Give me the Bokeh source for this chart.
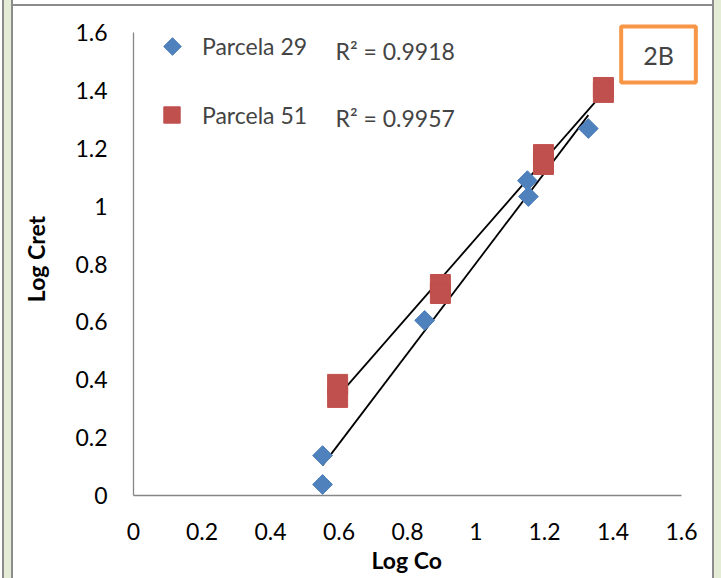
import numpy as np
from bokeh.plotting import figure
from bokeh.models import Legend, LegendItem, Label, Range1d, FixedTicker, Spacer, Title
from bokeh.layouts import row, column
from bokeh.embed import file_html
from bokeh.resources import INLINE

# ---- data ----
p29_x = [0.552, 0.552, 0.850, 1.150, 1.153, 1.328]
p29_y = [0.138, 0.038, 0.605, 1.088, 1.033, 1.268]
p51_x = [0.596, 0.596, 0.896, 0.896, 1.197, 1.197, 1.372, 1.372]
p51_y = [0.384, 0.339, 0.729, 0.698, 1.178, 1.144, 1.410, 1.393]
series_names = ["Parcela 29", "Parcela 51"]
r2_texts = ["R\u00b2 = 0.9918", "R\u00b2 = 0.9957"]
tick_values = [0, 0.2, 0.4, 0.6, 0.8, 1, 1.2, 1.4, 1.6]
tick_labels = ["0", "0.2", "0.4", "0.6", "0.8", "1", "1.2", "1.4", "1.6"]
axis_min, axis_max = 0, 1.6
x_title = "Log Co"
y_title = "Log Cret"
tag_text = "2B"

BLUE = "#4f81bd"
RED = "#c0504d"
FONT = "Lato"
FS = "23px"

# frame is a bit larger than the axes so the "2B" box is not clipped
FRAME_W, FRAME_H = 570, 473      # pixels
AXIS_W, AXIS_H = 548, 463        # pixels spanned by 0..1.6
x_end = axis_max * FRAME_W / AXIS_W
y_end = axis_max * FRAME_H / AXIS_H

p = figure(width=699, height=572, output_backend="svg", toolbar_location=None,
           x_range=Range1d(axis_min, x_end), y_range=Range1d(axis_min, y_end),
           min_border_left=120, min_border_right=9, min_border_top=16, min_border_bottom=83)
p.outline_line_color = None
p.grid.visible = False
p.background_fill_color = "white"
p.border_fill_color = "white"
p.extra_x_ranges = {"px": Range1d(0, FRAME_W)}
p.extra_y_ranges = {"px": Range1d(0, FRAME_H)}

for ax in (p.xaxis[0], p.yaxis[0]):
    ax.ticker = FixedTicker(ticks=tick_values)
    ax.bounds = (axis_min, axis_max)
    ax.major_label_overrides = {v: l for v, l in zip(tick_values, tick_labels)}
    ax.axis_line_color = "#868686"
    ax.axis_line_width = 1.3
    ax.major_tick_line_color = None
    ax.minor_tick_line_color = None
    ax.major_label_text_font = FONT
    ax.major_label_text_font_size = FS
    ax.major_label_text_color = "black"
    ax.axis_label_text_font = FONT
    ax.axis_label_text_font_size = FS
    ax.axis_label_text_font_style = "bold"
    ax.axis_label_text_color = "black"

p.yaxis.axis_label = y_title
p.xaxis.major_label_standoff = 21
p.yaxis.major_label_standoff = 20
p.yaxis.axis_label_standoff = 22

# x title centred under the drawn axis (0..1.6), not under the wider frame
p.add_layout(Title(text=x_title, align="left", offset=238, standoff=4,
                   vertical_align="middle", text_font=FONT, text_font_size=FS,
                   text_font_style="bold", text_color="black"), "below")

# trendlines (least squares over each series' range)
for xs, ys in ((p29_x, p29_y), (p51_x, p51_y)):
    m, b = np.polyfit(xs, ys, 1)
    lx = np.array([min(xs), max(xs)])
    p.line(lx, m * lx + b, line_color="black", line_width=1.8)

r29 = p.scatter(p29_x, p29_y, marker="square", angle=np.pi / 4, size=14,
                fill_color=BLUE, line_color=BLUE)
r51 = p.scatter(p51_x, p51_y, marker="square", size=20,
                fill_color=RED, line_color=RED)

# legend: blue key drawn as a rotated square (Bokeh legend keys ignore angle)
key29 = p.scatter(x=[], y=[], marker="square", fill_alpha=0, line_alpha=0)
p.scatter(x=[39], y=[449], x_range_name="px", y_range_name="px",
          marker="square", angle=np.pi / 4, size=12.5,
          fill_color=BLUE, line_color=BLUE)

legend = Legend(items=[LegendItem(label=series_names[0], renderers=[key29]),
                       LegendItem(label=series_names[1], renderers=[r51])],
                location=(18, 360), orientation="vertical",
                glyph_width=41, glyph_height=41, label_height=20,
                spacing=28, padding=0, margin=0, label_standoff=10,
                border_line_color=None, background_fill_alpha=0,
                label_text_font=FONT, label_text_font_size=FS)
p.add_layout(legend)

for txt, yy in zip(r2_texts, (445, 378)):
    p.add_layout(Label(x=202, y=yy, x_units="screen", y_units="screen", text=txt,
                       text_font=FONT, text_font_size=FS, text_align="left",
                       text_baseline="middle"))

p.add_layout(Label(x=525, y=441, x_units="screen", y_units="screen", text=tag_text,
                   text_font=FONT, text_font_size="25px", text_align="center",
                   text_baseline="middle", padding=(22, 13),
                   border_line_color="#f79646", border_line_width=4,
                   background_fill_color="white"))

GREEN = "#e4ecd6"
GREY = "#8c8c8c"
left_strip = Spacer(width=13, height=578, styles={
    "background": f"linear-gradient(to right, white 0px, white 2px, {GREY} 2px, {GREY} 4px, "
                  f"{GREEN} 4px, {GREEN} 11px, {GREY} 11px, {GREY} 13px)"})
top_strip = Spacer(width=699, height=6, styles={
    "background": f"linear-gradient(to bottom, white 0px, white 4px, {GREY} 4px, {GREY} 6px)"})
right_strip = Spacer(width=9, height=578, styles={
    "background": f"linear-gradient(to right, {GREY} 0px, {GREY} 2px, {GREEN} 2px, {GREEN} 9px)"})

layout = row(left_strip, column(top_strip, p, spacing=0), right_strip, spacing=0)

open("out.html", "w").write(file_html(layout, INLINE))
